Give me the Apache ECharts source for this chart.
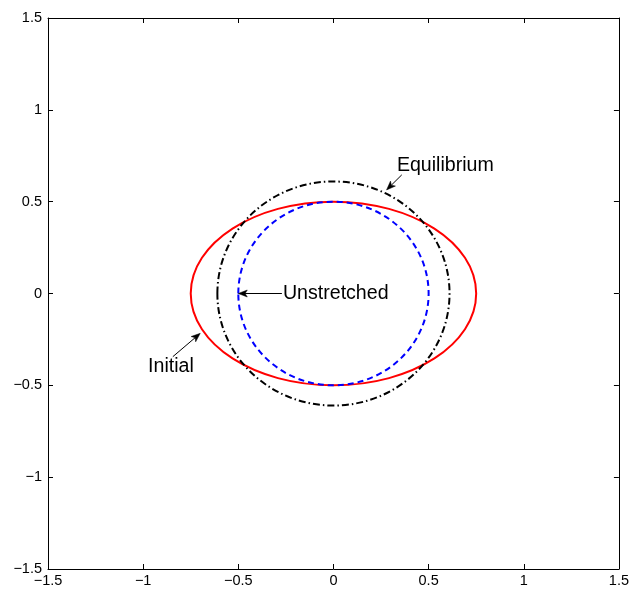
<!DOCTYPE html>
<html>
<head>
<meta charset="utf-8">
<script src="https://cdn.jsdelivr.net/npm/echarts@6/dist/echarts.min.js"></script>
<style>
  html, body { margin: 0; padding: 0; background: #fff; }
  #chart { width: 632px; height: 590px; }
</style>
</head>
<body>
<div id="chart"></div>
<script>
// Axis range and ticks
const axisMin = -1.5;
const axisMax = 1.5;
const tickStep = 0.5;

// Shapes: centre and semi-axes (data units)
const shapeNames = ['Initial', 'Equilibrium', 'Unstretched'];
const shapeCenterX = [0, 0, 0];
const shapeCenterY = [0, 0, 0];
const shapeSemiX = [0.75, 0.61, 0.5];
const shapeSemiY = [0.5, 0.61, 0.5];

// Text-arrow annotations (data units)
const noteText = ['Equilibrium', 'Unstretched', 'Initial'];
const noteTextX = [0.588, 0.012, -0.854];
const noteTextY = [0.695, 0.0, -0.399];
const arrowTailX = [0.359, -0.271, -0.844];
const arrowTailY = [0.646, 0.0, -0.344];
const arrowTipX = [0.279, -0.5, -0.7];
const arrowTipY = [0.564, 0.0, -0.217];

const FONT = '"Liberation Sans", Arial, Helvetica, sans-serif';
const shapeStyles = {
  'Initial': { stroke: '#ff0000', lineWidth: 2, lineDash: null },
  'Equilibrium': { stroke: '#000000', lineWidth: 2, lineDash: [7, 3, 1.5, 3] },
  'Unstretched': { stroke: '#0000ff', lineWidth: 2, lineDash: [6, 4] }
};

function fmtTick(v) {
  return String(v).replace('-', '\u2212');
}

function shapeSeries(i) {
  const name = shapeNames[i];
  const st = shapeStyles[name];
  return {
    type: 'custom',
    name: name,
    coordinateSystem: 'cartesian2d',
    silent: true,
    clip: false,
    data: [[shapeCenterX[i], shapeCenterY[i], shapeSemiX[i], shapeSemiY[i]]],
    renderItem: function (params, api) {
      const c = api.coord([api.value(0), api.value(1)]);
      const s = api.size([api.value(2), api.value(3)]);
      return {
        type: 'ellipse',
        shape: { cx: c[0], cy: c[1], rx: s[0], ry: s[1] },
        style: {
          fill: null,
          stroke: st.stroke,
          lineWidth: st.lineWidth,
          lineDash: st.lineDash
        }
      };
    }
  };
}

const noteData = noteText.map(function (t, i) {
  return [arrowTipX[i], arrowTipY[i], arrowTailX[i], arrowTailY[i], noteTextX[i], noteTextY[i], i];
});

const noteSeries = {
  type: 'custom',
  name: 'notes',
  coordinateSystem: 'cartesian2d',
  silent: true,
  clip: false,
  data: noteData,
  renderItem: function (params, api) {
    const tip = api.coord([api.value(0), api.value(1)]);
    const tail = api.coord([api.value(2), api.value(3)]);
    const txt = api.coord([api.value(4), api.value(5)]);
    const idx = api.value(6);
    const dx = tip[0] - tail[0], dy = tip[1] - tail[1];
    const len = Math.sqrt(dx * dx + dy * dy) || 1;
    const ux = dx / len, uy = dy / len;
    const px = -uy, py = ux;
    const hl = 9, hw = 3.5;
    const bx = tip[0] - ux * hl, by = tip[1] - uy * hl;
    const nx = tip[0] - ux * hl * 0.75, ny = tip[1] - uy * hl * 0.75;
    return {
      type: 'group',
      children: [
        {
          type: 'line',
          shape: { x1: tail[0], y1: tail[1], x2: nx, y2: ny },
          style: { stroke: '#000', lineWidth: 1 }
        },
        {
          type: 'polygon',
          shape: { points: [tip, [bx + px * hw, by + py * hw], [nx, ny], [bx - px * hw, by - py * hw]] },
          style: { fill: '#000', stroke: '#000', lineWidth: 0.5 }
        },
        {
          type: 'text',
          x: txt[0],
          y: txt[1],
          style: {
            text: noteText[idx],
            fill: '#000',
            font: '19.6px ' + FONT,
            align: 'center',
            verticalAlign: 'middle'
          }
        }
      ]
    };
  }
};

function valueAxis(pos, showLabels) {
  return {
    type: 'value',
    position: pos,
    min: axisMin,
    max: axisMax,
    interval: tickStep,
    axisLine: { show: true, onZero: false, lineStyle: { color: '#000', width: 1 } },
    axisTick: { show: true, inside: true, length: 5, lineStyle: { color: '#000', width: 1 } },
    axisLabel: {
      show: showLabels,
      color: '#000',
      fontFamily: FONT,
      fontSize: 14.5,
      margin: (pos === 'left') ? 6 : 4,
      formatter: fmtTick
    },
    splitLine: { show: false }
  };
}

const chart = echarts.init(document.getElementById('chart'), null, { renderer: 'canvas' });
chart.setOption({
  animation: false,
  backgroundColor: '#ffffff',
  grid: { left: 48, right: 11, top: 18, bottom: 21, containLabel: false },
  xAxis: [valueAxis('bottom', true), valueAxis('top', false)],
  yAxis: [valueAxis('left', true), valueAxis('right', false)],
  series: [shapeSeries(0), shapeSeries(1), shapeSeries(2), noteSeries]
});
</script>
</body>
</html>
